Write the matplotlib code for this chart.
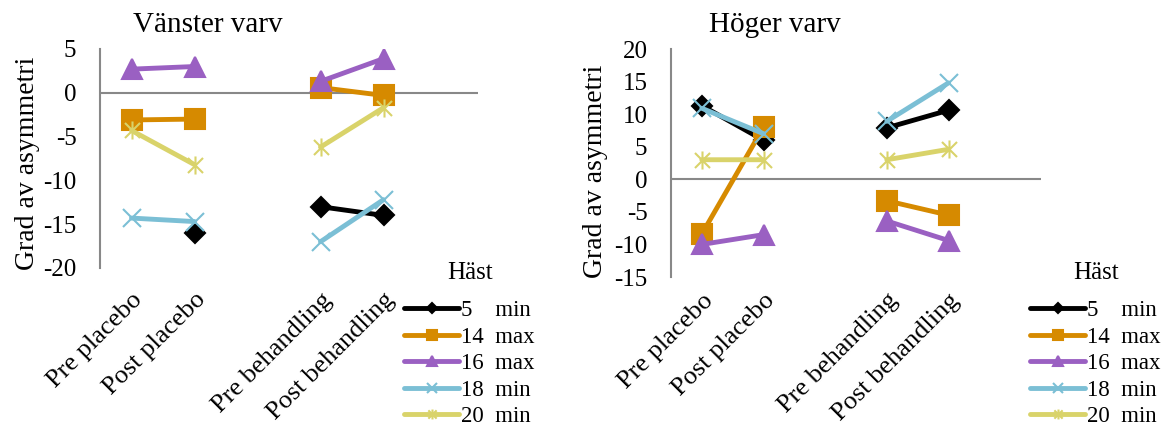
import matplotlib.pyplot as plt
import numpy as np
from matplotlib.path import Path

plt.rcParams['font.family'] = ['Liberation Serif', 'DejaVu Serif']
plt.rcParams['axes.unicode_minus'] = False

# kategorier: tom plats mellan placebo och behandling, och en tom sist
kategorier = ["Pre placebo", "Post placebo", "", "Pre behandling", "Post behandling", ""]
hastar = ["5\u2002\u2002min", "14\u2002max", "16\u2002max", "18\u2002min", "20\u2002min"]

nan = np.nan
vanster = {
    "5":  [nan, -16.0, nan, -13.0, -14.0, nan],
    "14": [-3.1, -3.0, nan, 0.6, -0.3, nan],
    "16": [2.7, 3.0, nan, 1.3, 3.9, nan],
    "18": [-14.3, -14.7, nan, -17.0, -12.2, nan],
    "20": [-4.3, -8.2, nan, -6.2, -1.7, nan],
}
hoger = {
    "5":  [11.3, 6.0, nan, 7.9, 10.6, nan],
    "14": [-8.4, 8.0, nan, -3.3, -5.5, nan],
    "16": [-10.0, -8.5, nan, -6.4, -9.4, nan],
    "18": [10.9, 7.0, nan, 8.9, 14.8, nan],
    "20": [3.0, 3.0, nan, 3.0, 4.6, nan],
}

farger = ["#000000", "#D68A00", "#9A60C2", "#7BBFD5", "#D9D36A"]
stjarna = Path([(-1, -1), (1, 1), (-1, 1), (1, -1), (0, -1.2), (0, 1.2)],
               [Path.MOVETO, Path.LINETO] * 3)
markorer = ["D", "s", "^", "x", stjarna]
storlek = [10, 14, 14, 13, 13]

fig = plt.figure(figsize=(11.64, 4.32), dpi=100)
ax1 = fig.add_axes([100/1164, 1-268/432, 378/1164, 219/432])
ax2 = fig.add_axes([671/1164, 1-277/432, 370/1164, 228/432])

x = np.arange(len(kategorier))


def rita(ax, data, ylim, titel, tx, ylab_x, ylab_y, leg_xy, xpad):
    for i, (k, v) in enumerate(data.items()):
        ax.plot(x, v, color=farger[i], lw=3.5, marker=markorer[i], ms=storlek[i],
                mew=1.5, label=hastar[i], solid_capstyle='round')
    ax.set_xlim(-0.5, len(kategorier) - 0.5)
    ax.set_ylim(*ylim)
    ax.set_yticks(np.arange(ylim[0], ylim[1] + 1, 5))
    ax.set_xticks(x[[0, 1, 3, 4]])
    ax.set_xticklabels([kategorier[j] for j in [0, 1, 3, 4]], rotation=45,
                       ha='right', rotation_mode='anchor', fontsize=19)
    ax.tick_params(axis='y', length=0, pad=17, labelsize=18)
    ax.tick_params(axis='x', length=0, pad=xpad)
    ax.axhline(0, color='#888888', lw=1.5, zorder=0)
    for s in ['top', 'right', 'bottom']:
        ax.spines[s].set_visible(False)
    ax.spines['left'].set_color('#888888')
    ax.spines['left'].set_linewidth(1.5)
    fig.text(tx / 1164, 1 - 25 / 432, titel, ha='center', va='center', fontsize=21)
    fig.text(ylab_x / 1164, 1 - ylab_y / 432, "Grad av asymmetri", rotation=90,
             ha='center', va='center', fontsize=20)
    fig.text((leg_xy[0] + 66) / 1164, 1 - 273 / 432, "Häst", ha='center', va='center',
             fontsize=18)
    ax.legend(loc='upper left', bbox_to_anchor=(leg_xy[0] / 1164, 1 - leg_xy[1] / 432),
              bbox_transform=fig.transFigure, frameon=False,
              fontsize=16.5, handlelength=2.4, handletextpad=0.1,
              labelspacing=0.24, markerscale=0.55, borderpad=0, borderaxespad=0)


rita(ax1, vanster, (-20, 5), "Vänster varv", 208, 28, 163, (404, 300), 15)
rita(ax2, hoger, (-15, 20), "Höger varv", 775, 596, 171, (1030, 300), 9)

fig.savefig("out.png", dpi=100)
